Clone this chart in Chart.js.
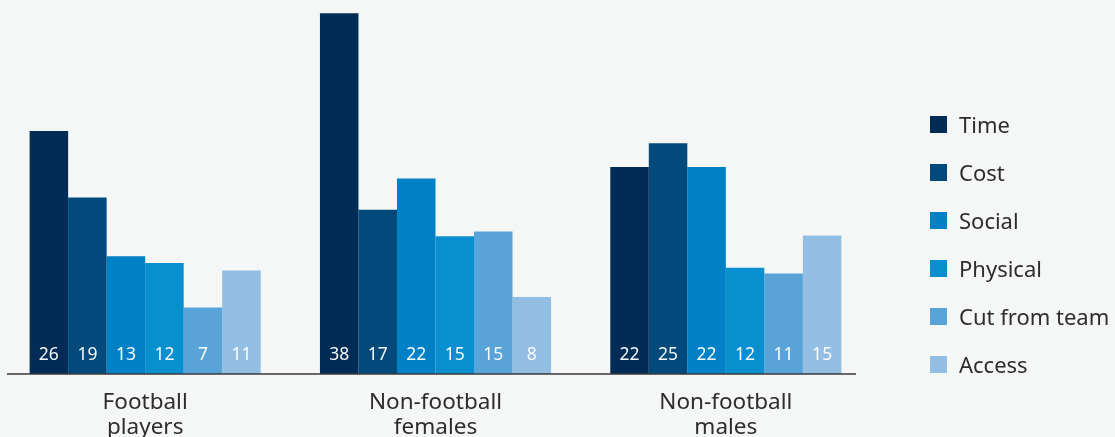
<!DOCTYPE html>
<html><head><meta charset="utf-8">
<script src="https://cdn.jsdelivr.net/npm/chart.js@4.4.1/dist/chart.umd.min.js"></script>
<style>
html,body{margin:0;padding:0;background:#f5f6f6;}
#wrap{position:relative;width:1115px;height:437px;overflow:hidden;background:#f5f6f6;}
#c{position:absolute;left:0;top:0;}
#legend{position:absolute;left:930px;top:0;width:185px;height:437px;font-family:'Noto Sans',sans-serif;font-size:22px;color:#2d2d2d;}
.item{position:absolute;left:0;white-space:nowrap;display:flex;align-items:center;height:30px;}
.sw{width:17px;height:17px;margin-right:12px;flex:none;}
</style></head>
<body><div id="wrap"><canvas id="c" width="1115" height="437"></canvas><div id="legend"></div></div>
<script>
// ---- data ----
const categories = [['Football', 'players'], ['Non-football', 'females'], ['Non-football', 'males']];
const seriesNames = ['Time', 'Cost', 'Social', 'Physical', 'Cut from team', 'Access'];
// bar heights
const timeValues = [25.6, 38.0, 21.8];
const costValues = [18.6, 17.3, 24.3];
const socialValues = [12.4, 20.6, 21.8];
const physicalValues = [11.7, 14.5, 11.2];
const cutValues = [7.0, 15.0, 10.6];
const accessValues = [10.9, 8.1, 14.6];
// numbers printed in the bars
const timeLabels = [26, 38, 22];
const costLabels = [19, 17, 25];
const socialLabels = [13, 22, 22];
const physicalLabels = [12, 15, 12];
const cutLabels = [7, 15, 11];
const accessLabels = [11, 8, 15];
const yMax = 39.4;

const colors = ['#002c55', '#024a7b', '#0081c6', '#088fcf', '#58a4d8', '#93bee4'];
const allValues = [timeValues, costValues, socialValues, physicalValues, cutValues, accessValues];
const allLabels = [timeLabels, costLabels, socialLabels, physicalLabels, cutLabels, accessLabels];

const datasets = seriesNames.map((name, i) => ({
  label: name,
  data: allValues[i],
  printed: allLabels[i],
  backgroundColor: colors[i],
  borderWidth: 0,
  categoryPercentage: 0.796,
  barPercentage: 1.0
}));

const valueLabelPlugin = {
  id: 'valueLabels',
  afterDatasetsDraw(chart) {
    const ctx = chart.ctx;
    ctx.save();
    ctx.font = '17.5px "Noto Sans"';
    ctx.fillStyle = 'rgba(255,255,255,0.96)';
    ctx.textAlign = 'center';
    ctx.textBaseline = 'middle';
    chart.data.datasets.forEach((ds, i) => {
      const meta = chart.getDatasetMeta(i);
      meta.data.forEach((bar, j) => {
        ctx.fillText(String(ds.printed[j]), bar.x, bar.base - 19);
      });
    });
    ctx.restore();
  }
};

const axisLinePlugin = {
  id: 'axisLine',
  afterDatasetsDraw(chart) {
    const ctx = chart.ctx;
    const y = chart.scales.y.getPixelForValue(0);
    const a = chart.chartArea;
    ctx.save();
    ctx.strokeStyle = '#3a3a3a';
    ctx.lineWidth = 1.6;
    ctx.beginPath();
    ctx.moveTo(a.left + 7, y);
    ctx.lineTo(a.right - 15, y);
    ctx.stroke();
    ctx.restore();
  }
};

const chart = new Chart(document.getElementById('c'), {
  type: 'bar',
  data: { labels: categories, datasets: datasets },
  options: {
    responsive: false,
    animation: false,
    devicePixelRatio: 1,
    layout: { padding: { left: 0, right: 244, top: 0, bottom: 0 } },
    plugins: { legend: { display: false }, tooltip: { enabled: false } },
    scales: {
      x: {
        grid: { display: false, drawTicks: false },
        border: { display: false },
        ticks: {
          color: '#2d2d2d',
          font: { family: 'Noto Sans', size: 22.5, lineHeight: 1.1 },
          padding: 16,
          maxRotation: 0
        },
        afterFit(scale) { scale.height = 63; }
      },
      y: { display: false, min: 0, max: yMax }
    }
  },
  plugins: [valueLabelPlugin, axisLinePlugin]
});

// legend
const legendEl = document.getElementById('legend');
const legendCenters = [124, 172, 220, 268, 316, 364];
seriesNames.forEach((name, i) => {
  const it = document.createElement('div');
  it.className = 'item';
  it.style.top = (legendCenters[i] - 15) + 'px';
  const sw = document.createElement('span');
  sw.className = 'sw';
  sw.style.background = colors[i];
  const tx = document.createElement('span');
  tx.textContent = name;
  it.appendChild(sw); it.appendChild(tx);
  legendEl.appendChild(it);
});
</script>
</body></html>
